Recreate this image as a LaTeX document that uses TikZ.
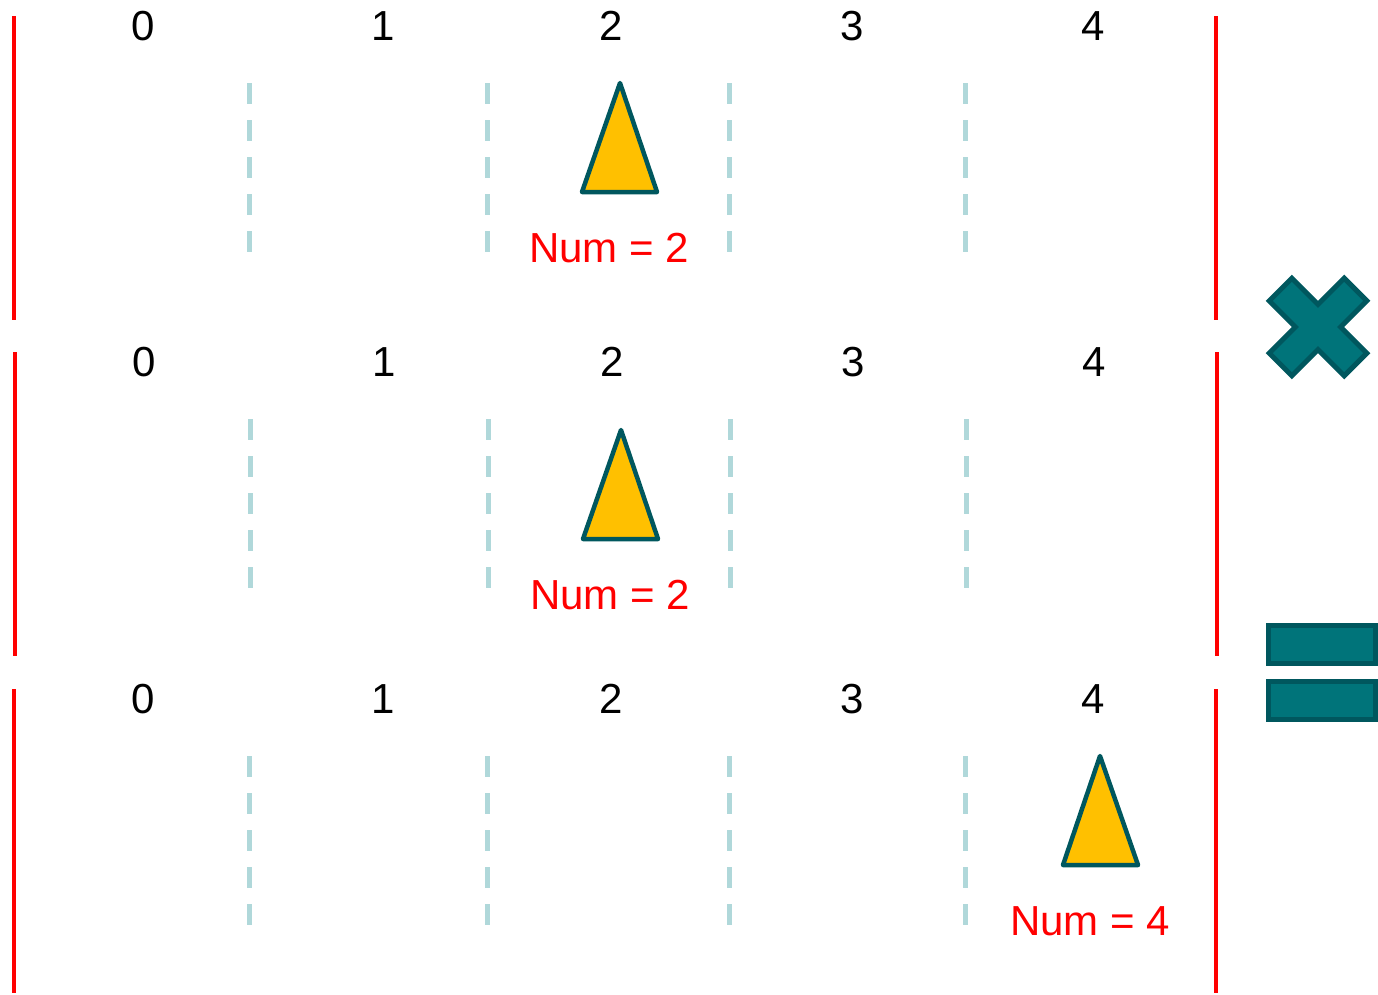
\documentclass[tikz,border=0pt]{standalone}
\usepackage{fontspec}
\setmainfont{Liberation Sans}
\definecolor{lane}{HTML}{B0D8DA}
\definecolor{tealdark}{HTML}{00575E}
\definecolor{tealfill}{HTML}{00747A}
\definecolor{gold}{HTML}{FFC000}
\tikzset{
  wall/.style={draw=red, line width=4pt},
  lanesep/.style={draw=lane, line width=5pt, dash pattern=on 21pt off 16pt},
  idx/.style={font=\fontsize{42}{50}\selectfont, text=black, inner sep=0pt},
  numlbl/.style={font=\fontsize{42}{50}\selectfont, text=red, inner sep=0pt},
  cone/.style={draw=tealdark, fill=gold, line width=4.5pt, line join=round},
  sym/.style={draw=tealdark, fill=tealfill, line width=5pt, line join=miter},
}
\begin{document}
\begin{tikzpicture}[x=1pt,y=-1pt]
\useasboundingbox (0,0) rectangle (1378,994);
% rows: top y of wall, offset
\foreach \r/\yo/\xo in {1/0/0, 2/336/1, 3/673/0}{
  \begin{scope}[yshift=-\yo pt, xshift=\xo pt]
    \draw[wall] (14,16) coordinate (wl\r a) -- (14,320) coordinate (wl\r b);
    \draw[wall] (1216,16) coordinate (wr\r a) -- (1216,320) coordinate (wr\r b);
    \foreach \i/\x in {0/143,1/383,2/611,3/852,4/1093}{
      \node[idx] (n\r\i) at (\x,26) {\i};
    }
    \foreach \x in {249,487,729,965}{
      \draw[lanesep] (\x,83) -- (\x,255);
    }
  \end{scope}
}
% cones
\draw[cone] (620,83) -- (657,192) -- (582,192) -- cycle;
\node[numlbl] (l1) at (609,248) {Num = 2};
\draw[cone] (621,430) -- (658,539) -- (583,539) -- cycle;
\node[numlbl] (l2) at (610,595) {Num = 2};
\draw[cone] (1100,756) -- (1138,865) -- (1063,865) -- cycle;
\node[numlbl] (l3) at (1090,921) {Num = 4};
% multiply sign
\begin{scope}[shift={(1318,327)}, rotate=45]
  \draw[sym] (-16,-53) -- (16,-53) -- (16,-16) -- (53,-16) -- (53,16) -- (16,16)
    -- (16,53) -- (-16,53) -- (-16,16) -- (-53,16) -- (-53,-16) -- (-16,-16) -- cycle;
\end{scope}
% equals sign
\draw[sym] (1268.5,625.5) rectangle (1375.5,663);
\draw[sym] (1268.5,681.5) rectangle (1375.5,719.5);
\end{tikzpicture}
\end{document}
